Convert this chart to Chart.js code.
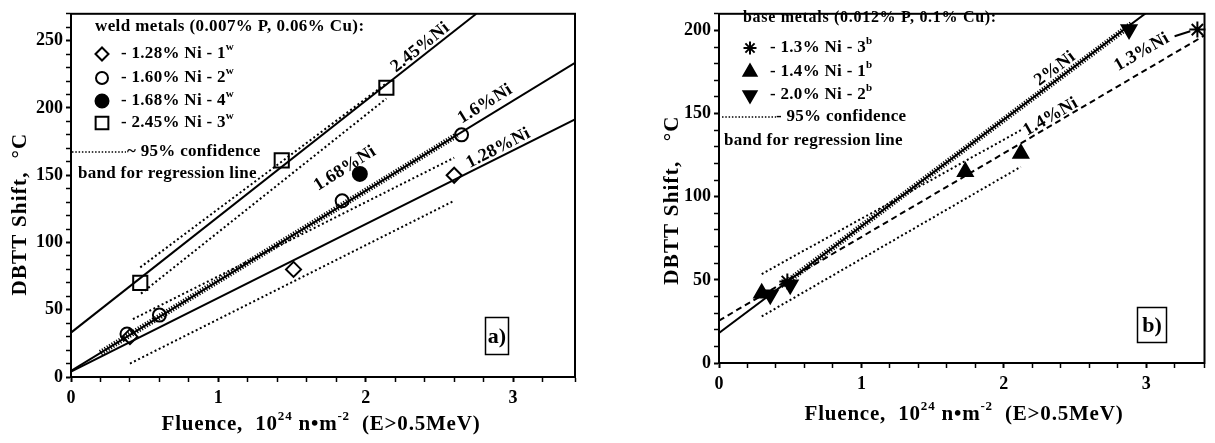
<!DOCTYPE html>
<html>
<head>
<meta charset="utf-8">
<script src="https://cdn.jsdelivr.net/npm/chart.js@4.4.1/dist/chart.umd.min.js"></script>
<style>
  body { margin: 0; background: #fff; width: 1215px; height: 443px; overflow: hidden; position: relative; }
  #chartA { position: absolute; left: 0; top: 0; }
  #chartB { position: absolute; left: 600px; top: 0; }
</style>
</head>
<body>
<canvas id="chartA" width="600" height="443"></canvas>
<canvas id="chartB" width="615" height="443"></canvas>
<script>
const FONT = '"Liberation Serif", "Times New Roman", serif';

// ---- panel a) weld metals ----
const w128X = [0.40, 1.51, 2.60];
const w128Y = [30, 80, 150];
const w160X = [0.38, 0.60, 1.84, 2.65];
const w160Y = [32, 46, 131, 180];
const w168X = [1.96];
const w168Y = [151];
const w245X = [0.47, 1.43, 2.14];
const w245Y = [70, 161, 215];

// regression lines and 95% bands (end points)
const fit245X = [0, 2.75], fit245Y = [33, 270];
const fit160X = [0, 3.42], fit160Y = [4.5, 233.5];
const fit128X = [0, 3.42], fit128Y = [4, 191.5];
const hatch168X = [0.2, 2.62], hatch168Y = [18, 180];
const band245UpX = [0.47, 2.13], band245UpY = [81.5, 217.5];
const band245LoX = [0.475, 2.14], band245LoY = [62, 207];
const band160LoX = [0.42, 2.6], band160LoY = [43, 163];
const band128LoX = [0.40, 2.6], band128LoY = [10, 131];

// ---- panel b) base metals ----
const b13X = [0.48, 3.36];
const b13Y = [49, 200.5];
const b14X = [0.30, 1.73, 2.12];
const b14Y = [42, 115, 126];
const b20X = [0.36, 0.50, 2.88];
const b20Y = [41, 47, 200.5];

const fit20X = [0, 3.0], fit20Y = [18, 210.5];
const hatch20X = [0.45, 2.9], hatch20Y = [47, 204];
const fit13X = [0, 3.41], fit13Y = [25.5, 197];
const leaderX = [3.2, 3.31], leaderY = [196.5, 199.5];
const bandBUpX = [0.30, 2.12], bandBUpY = [53.5, 140];
const bandBLoX = [0.30, 2.12], bandBLoY = [28, 118];

function pts(xs, ys) {
  return xs.map((x, i) => ({ x: x, y: ys[i] }));
}

function solid(xs, ys) {
  return { data: pts(xs, ys), showLine: true, borderColor: '#000', borderWidth: 2, pointRadius: 0 };
}
function hatched(xs, ys) {
  return { data: pts(xs, ys), showLine: true, borderColor: '#000', borderWidth: 6,
           borderDash: [1.2, 1.6], borderCapStyle: 'butt', pointRadius: 0 };
}
function dotted(xs, ys) {
  return { data: pts(xs, ys), showLine: true, borderColor: '#000', borderWidth: 2,
           borderDash: [2, 2.6], borderCapStyle: 'butt', pointRadius: 0 };
}
function dashed(xs, ys) {
  return { data: pts(xs, ys), showLine: true, borderColor: '#000', borderWidth: 2,
           borderDash: [6, 4], pointRadius: 0 };
}
function marks(xs, ys, style, fill, r, rot) {
  return { data: pts(xs, ys), showLine: false, pointStyle: style, pointRadius: r,
           pointRotation: rot || 0, pointBackgroundColor: fill, pointBorderColor: '#000',
           pointBorderWidth: 2, clip: false };
}

// text with superscripts: parts = [[text, 'n' | 'sup'], ...]
function drawParts(ctx, parts, x, y, size, align, angle, spacing) {
  ctx.save();
  ctx.translate(x, y);
  if (angle) ctx.rotate(angle * Math.PI / 180);
  ctx.letterSpacing = (spacing || 0) + 'px';
  const fontOf = p => 'bold ' + (p[1] === 'sup' ? Math.round(size * 0.62) : size) + 'px ' + FONT;
  let w = 0;
  parts.forEach(p => { ctx.font = fontOf(p); w += ctx.measureText(p[0]).width; });
  let cx = align === 'center' ? -w / 2 : 0;
  ctx.textAlign = 'left';
  ctx.textBaseline = 'middle';
  ctx.fillStyle = '#000';
  parts.forEach(p => {
    ctx.font = fontOf(p);
    ctx.fillText(p[0], cx, p[1] === 'sup' ? -size * 0.4 : 0);
    cx += ctx.measureText(p[0]).width;
  });
  ctx.restore();
}

function symbol(ctx, s, x, y) {
  ctx.save();
  ctx.fillStyle = s.fill;
  ctx.strokeStyle = '#000';
  ctx.lineWidth = 2;
  Chart.helpers.drawPoint(ctx, { pointStyle: s.style, radius: s.r, rotation: s.rot || 0, borderWidth: 2 }, x, y);
  ctx.restore();
}

// frame, axis titles, legend, line labels and panel tag
const paperPlugin = {
  id: 'paper',
  afterDraw(chart, args, o) {
    const { ctx, chartArea: a, scales: { x, y } } = chart;
    ctx.save();
    ctx.strokeStyle = '#000';
    ctx.lineWidth = 2;
    ctx.strokeRect(a.left, a.top, a.right - a.left, a.bottom - a.top);

    o.lineLabels.forEach(l => {
      drawParts(ctx, [[l.text, 'n']], x.getPixelForValue(l.x), y.getPixelForValue(l.y), 18, 'center', l.angle, 0.3);
    });

    ctx.lineWidth = 1.5;
    ctx.strokeRect(o.tag.x - o.tag.w / 2, o.tag.y - o.tag.h / 2, o.tag.w, o.tag.h);
    drawParts(ctx, [[o.tag.text, 'n']], o.tag.x, o.tag.y + 1, 22, 'center', 0);

    drawParts(ctx, o.xTitle.parts, o.xTitle.x, o.xTitle.y, 21, 'center', 0, 0.8);
    drawParts(ctx, [[o.yTitle.text, 'n']], o.yTitle.x, o.yTitle.y, 21, 'center', -90, 1.2);

    const lg = o.legend;
    drawParts(ctx, [[lg.title, 'n']], lg.titleX, lg.titleY, lg.titleSize, 'left', 0, lg.titleSpacing);
    lg.rows.forEach(r => {
      symbol(ctx, r.sym, lg.symX, r.y);
      drawParts(ctx, r.parts, lg.textX, r.y, 17, 'left', 0, 0.3);
    });
    ctx.save();
    ctx.lineWidth = 1.5;
    ctx.setLineDash([1.5, 1.8]);
    ctx.beginPath();
    ctx.moveTo(lg.bandX1, lg.bandY);
    ctx.lineTo(lg.bandX2, lg.bandY);
    ctx.stroke();
    ctx.restore();
    drawParts(ctx, [[lg.bandText, 'n']], lg.bandTextX, lg.bandY, 17, 'left', 0, 0.3);
    drawParts(ctx, [['band for regression line', 'n']], lg.band2X, lg.band2Y, 17, 'left', 0, 0.3);
    ctx.restore();
  }
};

function axes(xMax, yMax, yWidth, xHeight) {
  const tickFont = { family: FONT, size: 18, weight: 'bold' };
  return {
    x: {
      type: 'linear', min: 0, max: xMax,
      afterFit: s => { s.height = xHeight; },
      ticks: { stepSize: 0.2, color: '#000', font: tickFont, padding: 6, maxRotation: 0, autoSkip: false,
               callback: v => Math.abs(v - Math.round(v)) < 1e-6 ? Math.round(v) : '' },
      grid: { drawOnChartArea: false, drawTicks: true, tickLength: 5, tickColor: '#000',
              tickWidth: c => Math.abs(c.tick.value - Math.round(c.tick.value)) < 1e-6 ? 2 : 1.5 },
      border: { color: '#000', width: 2 }
    },
    y: {
      type: 'linear', min: 0, max: yMax,
      afterFit: s => { s.width = yWidth; },
      ticks: { stepSize: 10, color: '#000', font: tickFont, padding: 3, autoSkip: false,
               callback: v => v % 50 === 0 ? v : '' },
      grid: { drawOnChartArea: false, drawTicks: true, tickLength: 5, tickColor: '#000',
              tickWidth: c => c.tick.value % 50 === 0 ? 2 : 1.5 },
      border: { color: '#000', width: 2 }
    }
  };
}

const common = {
  responsive: false,
  animation: false,
  events: [],
  plugins: { legend: { display: false }, tooltip: { enabled: false } }
};

const fluenceTitle = [['Fluence,  10', 'n'], ['24', 'sup'], [' n\u2022m', 'n'], ['-2', 'sup'], ['  (E>0.5MeV)', 'n']];

new Chart(document.getElementById('chartA'), {
  type: 'scatter',
  data: {
    datasets: [
      solid(fit245X, fit245Y),
      solid(fit160X, fit160Y),
      solid(fit128X, fit128Y),
      hatched(hatch168X, hatch168Y),
      dotted(band245UpX, band245UpY),
      dotted(band245LoX, band245LoY),
      dotted(band160LoX, band160LoY),
      dotted(band128LoX, band128LoY),
      marks(w128X, w128Y, 'rectRot', '#fff', 7.5),
      marks(w160X, w160Y, 'circle', '#fff', 6.5),
      marks(w168X, w168Y, 'circle', '#000', 7),
      marks(w245X, w245Y, 'rect', '#fff', 10)
    ]
  },
  options: {
    ...common,
    layout: { padding: { left: 0, top: 12, right: 25, bottom: 0 } },
    scales: axes(3.42, 270, 71, 66),
    plugins: {
      ...common.plugins,
      paper: {
        lineLabels: [
          { text: '2.45%Ni', x: 2.37, y: 245, angle: -38.5 },
          { text: '1.6%Ni', x: 2.81, y: 203, angle: -31.5 },
          { text: '1.28%Ni', x: 2.90, y: 170, angle: -27 },
          { text: '1.68%Ni', x: 1.86, y: 155, angle: -32 }
        ],
        tag: { text: 'a)', x: 497, y: 336, w: 23, h: 37 },
        xTitle: { x: 321, y: 425, parts: fluenceTitle },
        yTitle: { x: 21, y: 214, text: 'DBTT Shift,  \u00B0C' },
        legend: {
          title: 'weld metals (0.007% P, 0.06% Cu):', titleX: 95, titleY: 27, titleSize: 17, titleSpacing: 0.4,
          symX: 102, textX: 121,
          rows: [
            { y: 54, sym: { style: 'rectRot', fill: '#fff', r: 6.5 }, parts: [['- 1.28% Ni - 1', 'n'], ['w', 'sup']] },
            { y: 78, sym: { style: 'circle', fill: '#fff', r: 6 }, parts: [['- 1.60% Ni - 2', 'n'], ['w', 'sup']] },
            { y: 101, sym: { style: 'circle', fill: '#000', r: 6.5 }, parts: [['- 1.68% Ni - 4', 'n'], ['w', 'sup']] },
            { y: 123, sym: { style: 'rect', fill: '#fff', r: 9 }, parts: [['- 2.45% Ni - 3', 'n'], ['w', 'sup']] }
          ],
          bandX1: 72, bandX2: 126, bandY: 152, bandText: '~ 95% confidence', bandTextX: 127,
          band2X: 78, band2Y: 174
        }
      }
    }
  },
  plugins: [paperPlugin]
});

new Chart(document.getElementById('chartB'), {
  type: 'scatter',
  data: {
    datasets: [
      solid(fit20X, fit20Y),
      hatched(hatch20X, hatch20Y),
      dashed(fit13X, fit13Y),
      solid(leaderX, leaderY),
      dotted(bandBUpX, bandBUpY),
      dotted(bandBLoX, bandBLoY),
      marks(b13X, b13Y, 'star', '#000', 8),
      marks(b14X, b14Y, 'triangle', '#000', 8.5),
      marks(b20X, b20Y, 'triangle', '#000', 8.5, 180)
    ]
  },
  options: {
    ...common,
    layout: { padding: { left: 0, top: 10, right: 2, bottom: 0 } },
    scales: axes(3.41, 210, 119, 80),
    plugins: {
      ...common.plugins,
      paper: {
        lineLabels: [
          { text: '2%Ni', x: 2.36, y: 177, angle: -36.5 },
          { text: '1.4%Ni', x: 2.33, y: 148, angle: -30 },
          { text: '1.3%Ni', x: 2.97, y: 187, angle: -30 }
        ],
        tag: { text: 'b)', x: 552, y: 325, w: 29, h: 35 },
        xTitle: { x: 364, y: 415, parts: fluenceTitle },
        yTitle: { x: 73, y: 200, text: 'DBTT Shift,   \u00B0C' },
        legend: {
          title: 'base metals (0.012% P, 0.1% Cu):', titleX: 143, titleY: 18, titleSize: 16, titleSpacing: 0.7,
          symX: 150, textX: 170,
          rows: [
            { y: 48, sym: { style: 'star', fill: '#000', r: 6.5 }, parts: [['- 1.3% Ni - 3', 'n'], ['b', 'sup']] },
            { y: 72, sym: { style: 'triangle', fill: '#000', r: 7.5 }, parts: [['- 1.4% Ni - 1', 'n'], ['b', 'sup']] },
            { y: 95, sym: { style: 'triangle', fill: '#000', r: 7.5, rot: 180 }, parts: [['- 2.0% Ni - 2', 'n'], ['b', 'sup']] }
          ],
          bandX1: 122, bandX2: 176, bandY: 117, bandText: '- 95% confidence', bandTextX: 176,
          band2X: 124, band2Y: 141
        }
      }
    }
  },
  plugins: [paperPlugin]
});
</script>
</body>
</html>
